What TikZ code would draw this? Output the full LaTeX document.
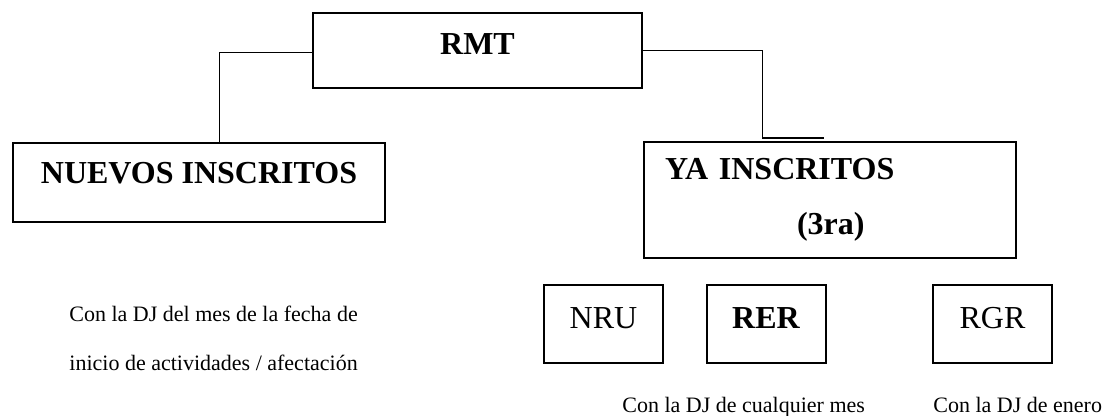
\documentclass[tikz,border=0pt]{standalone}
\usepackage{fontspec}
\setmainfont{Liberation Serif}
\tikzset{
  box/.style={draw, line width=1pt, inner sep=0pt, font=\fontsize{16}{19}\selectfont},
  boldbox/.style={box, font=\fontsize{16}{19}\selectfont\bfseries},
  smallbox/.style={box, minimum width=59.5pt, minimum height=39pt, text depth=6pt},
  link/.style={line width=0.5pt},
  note/.style={inner sep=0pt, align=left, font=\fontsize{11}{24.5}\selectfont},
}

\begin{document}
\begin{tikzpicture}[x=0.5pt, y=-0.5pt]
  \useasboundingbox (0,0) rectangle (1104,416);
  \node[boldbox, minimum width=164.5pt, minimum height=37.5pt, text depth=6pt]
    (rmt) at (477.5,50.5) {RMT};
  \node[boldbox, minimum width=186pt, minimum height=39.5pt, text depth=10pt]
    (nuevos) at (199,182.5) {NUEVOS INSCRITOS};
  \node[boldbox, minimum width=186pt, minimum height=58pt, inner xsep=10.5pt,
    text width=165pt, align=left, font=\fontsize{16}{27.5}\selectfont\bfseries]
    (ya) at (830,200) {YA INSCRITOS\\\hspace*{66pt}(3ra)};
  \node[smallbox] (nru) at (603.5,324) {NRU};
  \node[smallbox, font=\fontsize{16}{19}\selectfont\bfseries] (rer) at (766,324) {RER};
  \node[smallbox] (rgr) at (992.5,324) {RGR};
  \draw[link] ([yshift=-1.25pt]rmt.west) -| ([xshift=10pt]nuevos.north);
  \draw[link] (rmt.east) -| ([xshift=-34pt,yshift=1.5pt]ya.north) coordinate (k);
  \draw[line width=1pt] (k) -- ++(62,0);
  \node[note, anchor=north west] (nota) at (69,306)
    {Con la DJ del mes de la fecha de\\inicio de actividades / afectación};
  \node[note, anchor=base west] (notarer) at (622,413) {Con la DJ de cualquier mes};
  \node[note, anchor=base west] (notargr) at (933,413) {Con la DJ de enero};
\end{tikzpicture}
\end{document}
